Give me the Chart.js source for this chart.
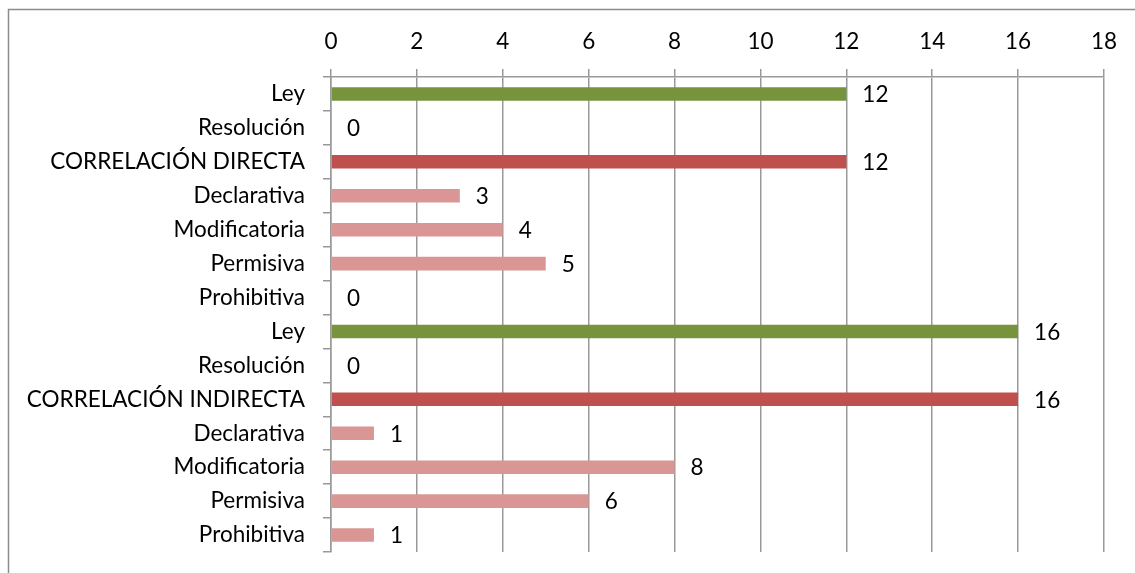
<!DOCTYPE html>
<html>
<head>
<meta charset="utf-8">
<script src="https://cdn.jsdelivr.net/npm/chart.js@4/dist/chart.umd.min.js"></script>
<style>
  html, body { margin: 0; padding: 0; background: #fff; }
  #wrap { width: 1135px; height: 573px; position: relative; }
</style>
</head>
<body>
<div id="wrap"><canvas id="c" width="1135" height="573"></canvas></div>
<script>
const categories = [
  "Ley", "Resolución", "CORRELACIÓN DIRECTA", "Declarativa", "Modificatoria", "Permisiva", "Prohibitiva",
  "Ley", "Resolución", "CORRELACIÓN INDIRECTA", "Declarativa", "Modificatoria", "Permisiva", "Prohibitiva"
];
const values = [12, 0, 12, 3, 4, 5, 0, 16, 0, 16, 1, 8, 6, 1];
const xTicks = [0, 2, 4, 6, 8, 10, 12, 14, 16, 18];

const FONT = "Lato, 'Open Sans', sans-serif";
const FSIZE = 22.5;
const GREEN = "#77933C", RED = "#C0504D", PINK = "#D99694";

function colorFor(label) {
  if (label === "Ley") return GREEN;
  if (label.startsWith("CORRELACIÓN")) return RED;
  return PINK;
}

const framePlugin = {
  id: "frame",
  beforeDraw(chart) {
    const ctx = chart.ctx;
    ctx.save();
    ctx.strokeStyle = "#8c8c8c";
    ctx.lineWidth = 1.5;
    ctx.beginPath();
    ctx.moveTo(8.5, 573);
    ctx.lineTo(8.5, 9.5);
    ctx.lineTo(1135, 9.5);
    ctx.stroke();
    ctx.restore();
  }
};

const valueLabels = {
  id: "valueLabels",
  afterDatasetsDraw(chart) {
    const ctx = chart.ctx;
    const meta = chart.getDatasetMeta(0);
    ctx.save();
    ctx.fillStyle = "#000";
    ctx.font = FSIZE + "px " + FONT;
    ctx.textAlign = "left";
    ctx.textBaseline = "middle";
    meta.data.forEach((bar, i) => {
      ctx.fillText(String(values[i]), bar.x + 16, bar.y + 1);
    });
    ctx.restore();
  }
};

new Chart(document.getElementById("c"), {
  type: "bar",
  data: {
    labels: categories,
    datasets: [{
      data: values,
      backgroundColor: ctx => colorFor(categories[ctx.dataIndex]),
      borderWidth: 0,
      categoryPercentage: 1,
      barPercentage: 0.4
    }]
  },
  options: {
    indexAxis: "y",
    responsive: false,
    animation: false,
    devicePixelRatio: 1,
    layout: { padding: { left: 0, top: 0, right: 31, bottom: 21 } },
    plugins: { legend: { display: false }, tooltip: { enabled: false } },
    scales: {
      x: {
        position: "top",
        min: 0, max: 18,
        afterBuildTicks: s => { s.ticks = xTicks.map(v => ({ value: v })); },
        afterFit: s => { s.height = 77; s.paddingLeft = 0; s.paddingRight = 0; },
        ticks: { color: "#000", font: { family: FONT, size: FSIZE }, padding: 14 },
        grid: { color: "#999", lineWidth: 1.5, tickLength: 8, drawOnChartArea: true },
        border: { color: "#999", width: 1.5 }
      },
      y: {
        afterFit: s => { s.width = 331; s.paddingTop = 0; s.paddingBottom = 0; },
        ticks: { color: "#000", font: { family: FONT, size: FSIZE }, padding: 18, autoSkip: false },
        grid: { offset: true, drawOnChartArea: false, color: "#999", lineWidth: 1.5, tickLength: 8 },
        border: { color: "#999", width: 1.5 }
      }
    }
  },
  plugins: [framePlugin, valueLabels]
});
</script>
</body>
</html>
